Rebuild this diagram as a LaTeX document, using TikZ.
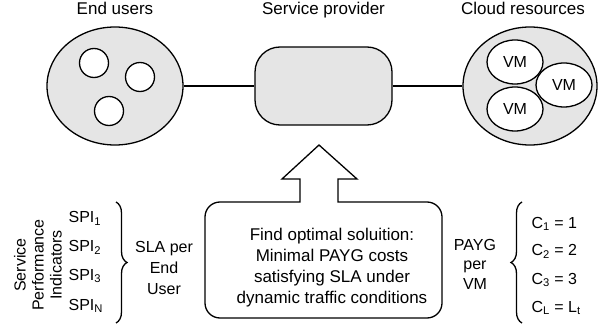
\documentclass[tikz,border=0pt]{standalone}
\usepackage{fontspec}
\setmainfont{Liberation Sans}
\usetikzlibrary{decorations.pathreplacing,shapes.geometric}
\begin{document}
\begin{tikzpicture}[x=1pt,y=1pt,line width=1.3pt,
  grayfill/.style={draw=black,fill=black!10,line width=1.3pt},
  whitecirc/.style={circle,draw=black,fill=white,minimum size=29pt,inner sep=0pt},
  vmell/.style={ellipse,draw=black,fill=white,minimum width=56pt,minimum height=44pt,inner sep=0pt,font=\fontsize{16}{19}\selectfont},
  head/.style={font=\fontsize{17}{20}\selectfont,inner sep=0pt},
  lbl/.style={font=\fontsize{16}{19}\selectfont,inner sep=0pt},
  bracedeco/.style={decorate,decoration={brace,amplitude=11pt},line width=1.3pt}
]
\useasboundingbox (0,0) rectangle (600,327);
% headings
\node[head,anchor=base] (h1) at (115,312) {End users};
\node[head,anchor=base] (h2) at (323.5,312) {Service provider};
\node[head,anchor=base] (h3) at (523,312) {Cloud resources};
% top row
\node[ellipse,grayfill,minimum width=136pt,minimum height=118pt,inner sep=0pt] (eu) at (115,241) {};
\node[whitecirc] (u1) at (94,264) {};
\node[whitecirc] (u2) at (140,250) {};
\node[whitecirc] (u3) at (109,216) {};
\node[rectangle,rounded corners=25pt,grayfill,minimum width=137pt,minimum height=78pt] (sp) at (323.5,241) {};
\node[ellipse,grayfill,minimum width=134pt,minimum height=118pt,inner sep=0pt] (cr) at (530,241) {};
\node[vmell] (vm2) at (564,242) {VM};
\node[vmell] (vm1) at (515,265) {VM};
\node[vmell] (vm3) at (515,218) {VM};
\draw (eu.east) -- (sp.west);
\draw (sp.east) -- (cr.west);
% callout with arrow
\draw[fill=white,line join=miter] (300,125) -- (300,148) -- (282,148) -- (319,182) -- (357,148) -- (338,148) -- (338,125)
  -- (427,125) arc[start angle=90,end angle=0,radius=15]
  -- (442,24) arc[start angle=0,end angle=-90,radius=15]
  -- (220,9) arc[start angle=270,end angle=180,radius=15]
  -- (205,110) arc[start angle=180,end angle=90,radius=15] -- cycle;
\node[align=center,font=\fontsize{17}{21.3}\selectfont,inner sep=0pt] (goal) at (332,59.4)
  {Find optimal soluition:\\Minimal PAYG costs\\satisfying SLA under\\dynamic traffic conditions};
% left side
\node[lbl,rotate=90,align=center,font=\fontsize{16}{18}\selectfont] (spi) at (38,62) {Service\\Performance\\Indicators};
\node[lbl,anchor=base west] (s1) at (68,104) {SPI\textsubscript{1}};
\node[lbl,anchor=base west] (s2) at (68,75) {SPI\textsubscript{2}};
\node[lbl,anchor=base west] (s3) at (68,47) {SPI\textsubscript{3}};
\node[lbl,anchor=base west] (s4) at (68,17) {SPI\textsubscript{N}};
\coordinate (lbt) at (116,125);
\coordinate (lbb) at (116,4);
\draw[bracedeco] (lbt) -- (lbb);
\node[lbl,align=center,font=\fontsize{16}{21}\selectfont] (sla) at (164,59) {SLA per\\End\\User};
% right side
\node[lbl,align=center,font=\fontsize{16}{19.5}\selectfont] (payg) at (475,63) {PAYG\\per\\VM};
\coordinate (rbb) at (522,4);
\coordinate (rbt) at (522,125);
\draw[bracedeco] (rbb) -- (rbt);
\node[lbl,anchor=base west] (c1) at (531,99) {C\textsubscript{1} = 1};
\node[lbl,anchor=base west] (c2) at (531,71) {C\textsubscript{2} = 2};
\node[lbl,anchor=base west] (c3) at (531,43) {C\textsubscript{3} = 3};
\node[lbl,anchor=base west] (c4) at (531,15) {C\textsubscript{L} = L\textsubscript{t}};
\end{tikzpicture}
\end{document}
